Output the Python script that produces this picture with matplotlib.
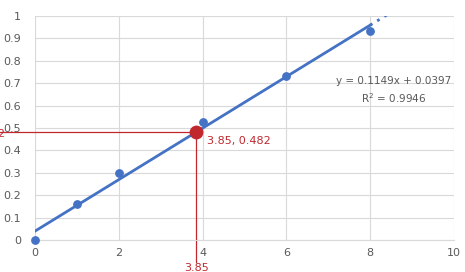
import numpy as np
import matplotlib.pyplot as plt

# data
x_pts = [0, 1, 2, 4, 6, 8]
y_pts = [0.0, 0.16, 0.30, 0.525, 0.73, 0.935]
slope, icpt = 0.1149, 0.0397
x_sel, y_sel = 3.85, 0.482
xticks = [0, 2, 4, 6, 8, 10]
yticks = [0, 0.1, 0.2, 0.3, 0.4, 0.5, 0.6, 0.7, 0.8, 0.9, 1]

blue = '#4472c4'
red = '#c0282d'
grey = '#595959'

fig = plt.figure(figsize=(4.65, 2.72), dpi=100)
ax = fig.add_axes([0.0753, 0.1176, 0.9007, 0.8235])

ax.set_xlim(0, 10)
ax.set_ylim(0, 1)
ax.set_xticks(xticks)
ax.set_yticks(yticks)
ax.set_yticklabels([f'{v:g}' for v in yticks])
ax.grid(True, color='#d9d9d9', linewidth=0.8)
ax.set_axisbelow(True)
for s in ['top', 'right', 'left']:
    ax.spines[s].set_visible(False)
ax.spines['bottom'].set_color('#d9d9d9')
ax.tick_params(length=0, colors=grey, labelsize=8)
ax.tick_params(axis='x', pad=6)
ax.tick_params(axis='y', pad=10)

# trendline (solid over data, dotted forecast)
xl = np.array([0, 8])
ax.plot(xl, slope * xl + icpt, color=blue, lw=2, zorder=3)
xf = np.array([8, 8.45])
ax.plot(xf, slope * xf + icpt, color=blue, lw=2, ls=(0, (1, 2)), zorder=3)

ax.scatter(x_pts, y_pts, s=28, color=blue, zorder=4, clip_on=False)

# selected point and guide lines
ax.plot([-0.9, x_sel], [y_sel, y_sel], color=red, lw=0.9, clip_on=False, zorder=2)
ax.plot([x_sel, x_sel], [y_sel, -0.1], color=red, lw=0.9, clip_on=False, zorder=2)
ax.scatter([x_sel], [y_sel], s=80, color=red, zorder=5)
ax.text(x_sel + 0.25, y_sel - 0.04, f'{x_sel}, {y_sel}', color=red, fontsize=8,
        ha='left', va='center')
ax.text(x_sel, -0.125, f'{x_sel}', color=red, fontsize=8, ha='center', va='center',
        clip_on=False)
ax.text(-0.72, y_sel - 0.01, f'{y_sel}', color=red, fontsize=8, ha='right', va='center',
        clip_on=False)

ax.text(8.57, 0.667, f'y = {slope}x + {icpt}\nR$^2$ = 0.9946', color=grey, fontsize=7.5,
        ha='center', va='center', linespacing=1.5)

fig.savefig('out.png', dpi=100)
